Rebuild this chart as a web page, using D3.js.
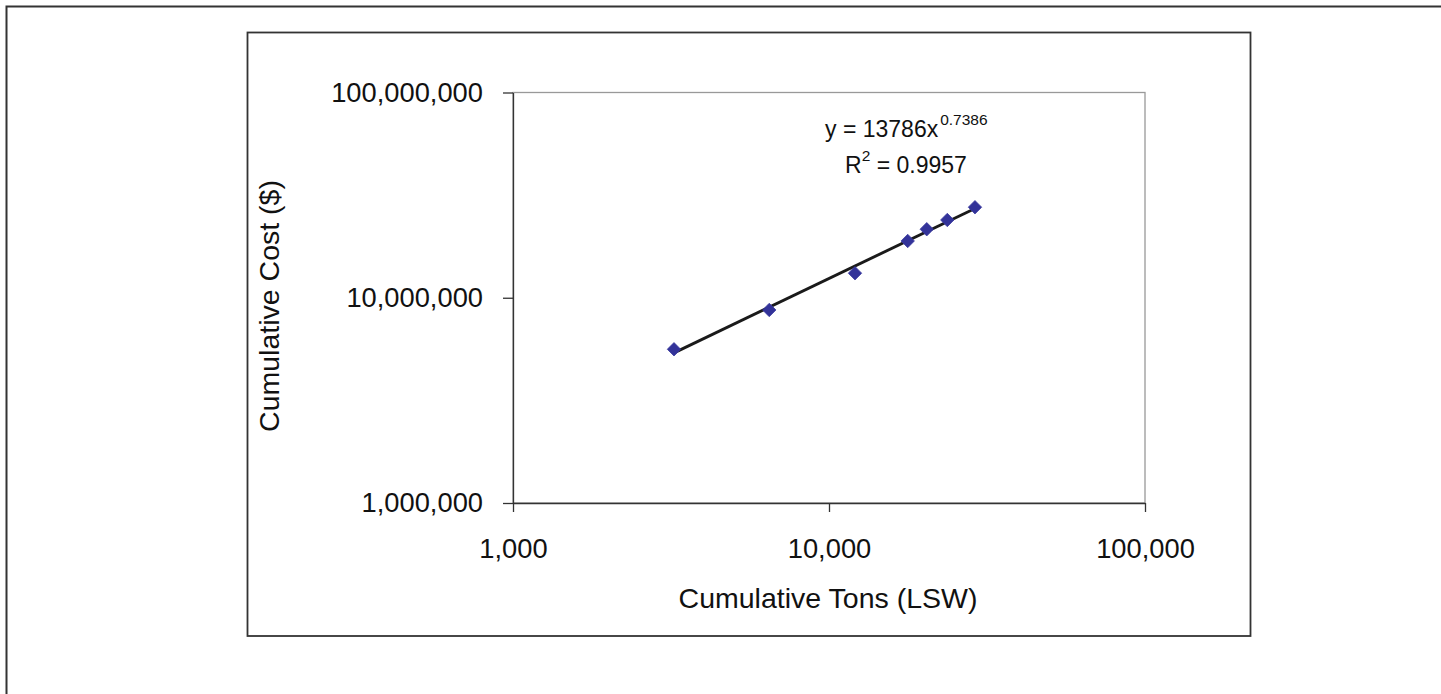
<!DOCTYPE html>
<html>
<head>
<meta charset="utf-8">
<script src="https://cdn.jsdelivr.net/npm/d3@7"></script>
<style>
html,body{margin:0;padding:0;background:#fff;}
svg{display:block;}
text{font-family:"Liberation Sans",Arial,sans-serif;fill:#111;}
</style>
</head>
<body>
<svg id="chart" width="1441" height="694"></svg>
<script>
// ---- data ----
const tons = [3232, 6471, 12085, 17745, 20387, 23680, 28970];
const cost = [5610000, 8720000, 13170000, 18910000, 21570000, 23930000, 27610000];
const xTicks = [1000, 10000, 100000];
const yTicks = [1000000, 10000000, 100000000];
const trendCoef = [13786, 0.7386]; // y = a * x^b
const xTitle = "Cumulative Tons (LSW)";
const yTitle = "Cumulative Cost ($)";

const svg = d3.select("#chart");
const fmt = d3.format(",");

// outer frame
svg.append("rect").attr("x", 6.5).attr("y", 6.5).attr("width", 1460).attr("height", 720)
  .attr("fill", "none").attr("stroke", "#333").attr("stroke-width", 2);
// chart area frame
svg.append("rect").attr("x", 247.5).attr("y", 32.5).attr("width", 1003).attr("height", 603.5)
  .attr("fill", "none").attr("stroke", "#333").attr("stroke-width", 1.8);

const L = 513, R = 1145, T = 92.5, B = 503;
const x = d3.scaleLog().domain([1000, 100000]).range([L, R]);
const y = d3.scaleLog().domain([1000000, 100000000]).range([B, T]);

// plot area border (gray)
svg.append("rect").attr("x", L).attr("y", T).attr("width", R - L).attr("height", B - T)
  .attr("fill", "none").attr("stroke", "#999").attr("stroke-width", 1.3);

// axes
const xAxis = svg.append("g").attr("transform", `translate(0,${B})`)
  .call(d3.axisBottom(x).tickValues(xTicks).tickFormat(fmt).tickSizeInner(9).tickSizeOuter(0).tickPadding(27));
const yAxis = svg.append("g").attr("transform", `translate(${L},0)`)
  .call(d3.axisLeft(y).tickValues(yTicks).tickFormat(fmt).tickSizeInner(10).tickSizeOuter(0).tickPadding(20));
[xAxis, yAxis].forEach(a => {
  a.select(".domain").attr("stroke", "#333").attr("stroke-width", 1.3);
  a.selectAll(".tick line").attr("stroke", "#333").attr("stroke-width", 1.3);
  a.selectAll(".tick text").attr("font-size", 27.3).attr("fill", "#111")
    .style("font-family", '"Liberation Sans",Arial,sans-serif');
});

// axis titles
svg.append("text").attr("x", 828).attr("y", 608).attr("text-anchor", "middle")
  .attr("font-size", 28.5).text(xTitle);
svg.append("text").attr("transform", "translate(279,306) rotate(-90)").attr("text-anchor", "middle")
  .attr("font-size", 28.5).text(yTitle);

// trendline (power fit, straight on log-log axes)
const xExt = d3.extent(tons);
const trendPts = xExt.map(v => [v, trendCoef[0] * Math.pow(v, trendCoef[1])]);
svg.append("path")
  .attr("d", d3.line().x(d => x(d[0])).y(d => y(d[1]))(trendPts))
  .attr("fill", "none").attr("stroke", "#1a1a1a").attr("stroke-width", 2.9);

// diamond markers
const dsz = 6.7;
svg.append("g").selectAll("path").data(tons.map((t, i) => [t, cost[i]])).join("path")
  .attr("transform", d => `translate(${x(d[0])},${y(d[1])})`)
  .attr("d", `M0,${-dsz}L${dsz},0L0,${dsz}L${-dsz},0Z`)
  .attr("fill", "#333399").attr("stroke", "#3a3aa0").attr("stroke-width", 0.8);

// equation labels
const eq = svg.append("text").attr("x", 825).attr("y", 137).attr("font-size", 23);
eq.append("tspan").text("y = 13786x");
eq.append("tspan").attr("dy", -12).attr("dx", 2).attr("font-size", 15.5).text("0.7386");
const r2 = svg.append("text").attr("x", 845).attr("y", 173).attr("font-size", 23);
r2.append("tspan").text("R");
r2.append("tspan").attr("dy", -12).attr("font-size", 15.5).text("2");
r2.append("tspan").attr("dy", 12).text(" = 0.9957");
</script>
</body>
</html>
